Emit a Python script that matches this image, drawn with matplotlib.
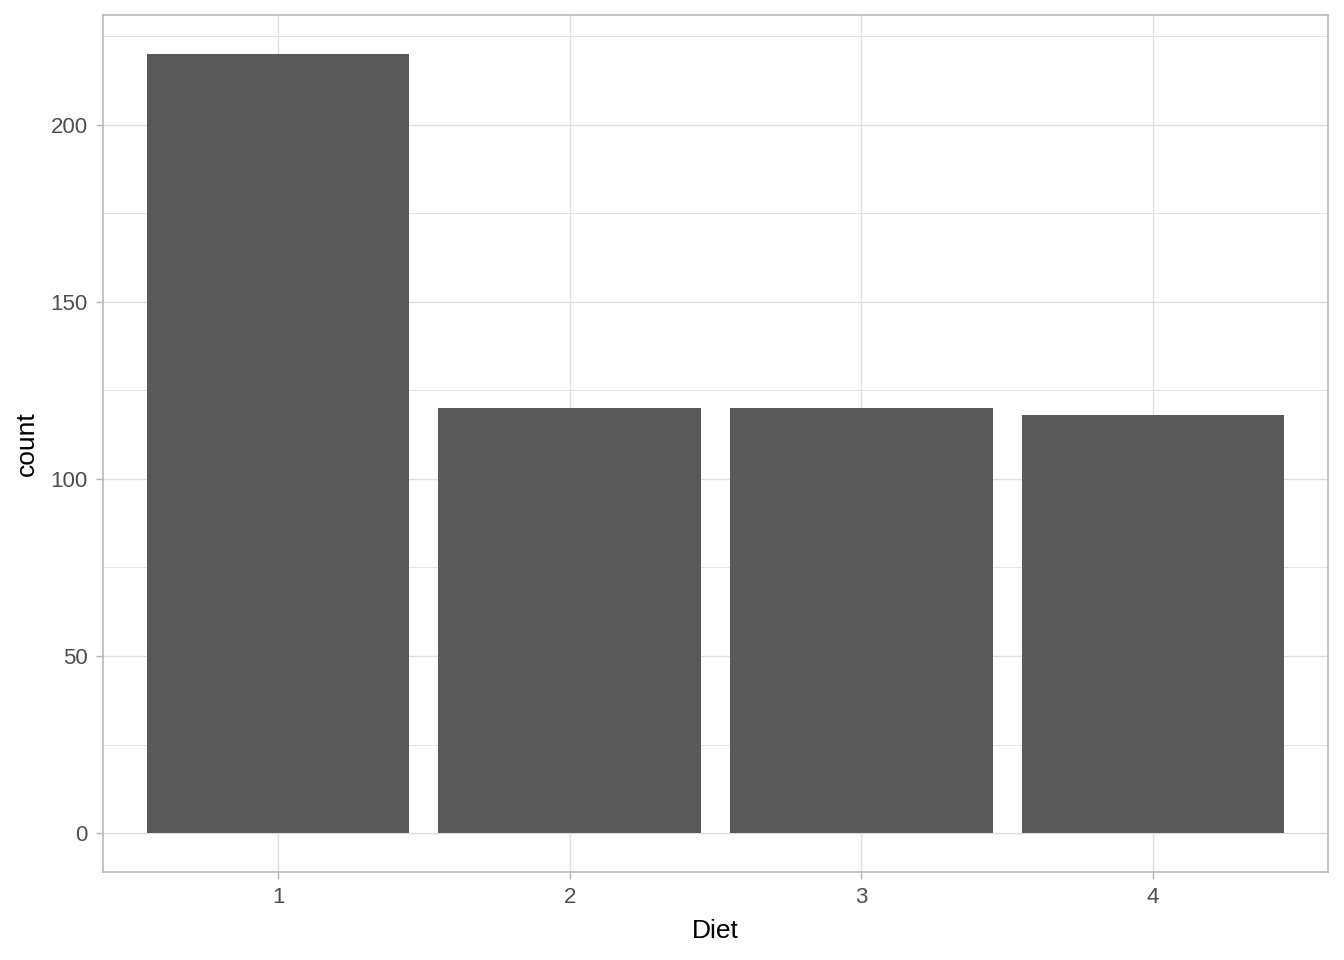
import numpy as np
import matplotlib.pyplot as plt

plt.rcParams['font.family'] = ['Liberation Sans', 'DejaVu Sans']

diets = ["1", "2", "3", "4"]
counts = [220, 120, 120, 118]

fig = plt.figure(figsize=(13.44, 9.6), dpi=100)
ax = fig.add_axes([103 / 1344, 1 - 872 / 960, (1328 - 103) / 1344, (872 - 15) / 960])

x = np.arange(1, len(diets) + 1)
ax.bar(x, counts, width=0.9, color="#595959", zorder=3)

ax.set_xlim(0.4, 4.6)
ax.set_ylim(-11, 231)
ax.set_xticks(x)
ax.set_xticklabels(diets)
ax.set_yticks([0, 50, 100, 150, 200])
ax.set_yticks([25, 75, 125, 175, 225], minor=True)

ax.grid(which="major", color="#dedede", linewidth=1.0, zorder=0)
ax.grid(which="minor", axis="y", color="#dedede", linewidth=0.6, zorder=0)
ax.set_axisbelow(True)

for s in ax.spines.values():
    s.set_color("#b3b3b3")
    s.set_linewidth(1.1)

ax.tick_params(which="major", color="#b3b3b3", length=5, width=1.0,
               labelsize=16, labelcolor="#4d4d4d", pad=6)
ax.tick_params(which="minor", length=0)

ax.set_xlabel("Diet", fontsize=19, color="black", labelpad=8)
ax.set_ylabel("count", fontsize=19, color="black", labelpad=8)

fig.savefig("out.png", dpi=100)
